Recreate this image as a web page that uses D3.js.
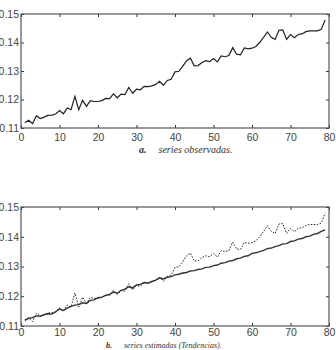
<html>
<head>
<meta charset="utf-8">
<script src="https://d3js.org/d3.v7.min.js"></script>
<style>
  body { margin: 0; background: #fff; }
  svg { display: block; }
</style>
</head>
<body>
<svg id="chart" width="336" height="350"></svg>
<script>
// x positions 1..79
var periods = d3.range(1, 80);

var observed = [
  0.1118, 0.1127, 0.1115, 0.1143, 0.1133, 0.1138, 0.1144, 0.1145, 0.1149, 0.1161,
  0.1150, 0.1170, 0.1164, 0.1211, 0.1164, 0.1197, 0.1176, 0.1196, 0.1193, 0.1193,
  0.1196, 0.1204, 0.1203, 0.1220, 0.1206, 0.1219, 0.1217, 0.1242, 0.1222, 0.1236,
  0.1234, 0.1246, 0.1245, 0.1248, 0.1253, 0.1264, 0.1250, 0.1267, 0.1271, 0.1297,
  0.1299, 0.1316, 0.1336, 0.1345, 0.1318, 0.1319, 0.1330, 0.1336, 0.1333, 0.1344,
  0.1332, 0.1353, 0.1350, 0.1354, 0.1382, 0.1359, 0.1357, 0.1381, 0.1378, 0.1380,
  0.1386, 0.1400, 0.1418, 0.1437, 0.1418, 0.1411, 0.1443, 0.1444, 0.1411, 0.1428,
  0.1417, 0.1428, 0.1430, 0.1438, 0.1441, 0.1441, 0.1441, 0.1446, 0.1479
];

// estimated trend
var trend = [
  0.1120, 0.1126, 0.1128, 0.1134, 0.1133, 0.1138, 0.1141, 0.1140, 0.1147, 0.1158,
  0.1152, 0.1160, 0.1166, 0.1170, 0.1172, 0.1178, 0.1176, 0.1186, 0.1188, 0.1195,
  0.1197, 0.1203, 0.1206, 0.1214, 0.1210, 0.1220, 0.1224, 0.1232, 0.1228, 0.1238,
  0.1240, 0.1246, 0.1244, 0.1250, 0.1254, 0.1262, 0.1258, 0.1264, 0.1266, 0.1272,
  0.1274, 0.1278, 0.1280, 0.1285, 0.1286, 0.1290, 0.1292, 0.1297, 0.1298, 0.1303,
  0.1305, 0.1311, 0.1313, 0.1318, 0.1320, 0.1326, 0.1328, 0.1334, 0.1336, 0.1344,
  0.1346, 0.1350, 0.1354, 0.1360, 0.1362, 0.1367, 0.1370, 0.1376, 0.1377, 0.1384,
  0.1386, 0.1392, 0.1394, 0.1400, 0.1402, 0.1408, 0.1411, 0.1418, 0.1423
];

var xTicks = [0, 10, 20, 30, 40, 50, 60, 70, 80];
var yTicks = [0.11, 0.12, 0.13, 0.14, 0.15];

var svg = d3.select("#chart");

// draw one framed panel, return its scales
function panel(top, bottom, caption, letter, captionY, xPad){
  var left = 21, right = 329;
  var x = d3.scaleLinear().domain([0, 80]).range([left, right]);
  var y = d3.scaleLinear().domain([0.11, 0.15]).range([bottom, top]);
  var g = svg.append("g");

  // inward ticks on all four sides
  g.append("g").attr("transform", "translate(0," + bottom + ")")
    .call(d3.axisBottom(x).tickValues(xTicks).tickSizeInner(-3).tickSizeOuter(0).tickPadding(xPad))
    .call(styleAxis);
  g.append("g").attr("transform", "translate(0," + top + ")")
    .call(d3.axisTop(x).tickValues(xTicks).tickSizeInner(-3).tickSizeOuter(0).tickFormat(""))
    .call(styleAxis);
  g.append("g").attr("transform", "translate(" + left + ",0)")
    .call(d3.axisLeft(y).tickValues(yTicks).tickSizeInner(-3).tickSizeOuter(0).tickPadding(2).tickFormat(d3.format(".2f")))
    .call(styleAxis);
  g.append("g").attr("transform", "translate(" + right + ",0)")
    .call(d3.axisRight(y).tickValues(yTicks).tickSizeInner(-3).tickSizeOuter(0).tickFormat(""))
    .call(styleAxis);

  g.append("rect")
    .attr("x", left).attr("y", top)
    .attr("width", right - left).attr("height", bottom - top)
    .attr("fill", "none")
    .style("stroke", "#555")
    .style("stroke-width", 1.2);

  var cap = g.append("text")
    .attr("x", 139).attr("y", captionY)
    .style("font-family", "'Liberation Serif', serif")
    .style("font-style", "italic")
    .style("font-size", "10px")
    .style("fill", "#333");
  cap.append("tspan").style("font-weight", "bold").text(letter);
  cap.append("tspan").attr("dx", 12).text(caption);

  return {x: x, y: y, g: g, cap: cap};
}

function styleAxis(sel){
  sel.select(".domain").remove();
  sel.selectAll("line").style("stroke", "#333");
  sel.selectAll("text")
    .style("font-family", "'Liberation Sans Narrow', 'Liberation Sans', Arial, sans-serif")
    .style("font-size", "10.5px")
    .style("fill", "#444");
}

// panel a
var pa = panel(14, 128, "series observadas.", "a.", 153, 6);
var lineA = d3.line().x(function(d, i){ return pa.x(periods[i]); }).y(function(d){ return pa.y(d); });
pa.g.append("path")
  .datum(observed)
  .attr("d", lineA)
  .attr("fill", "none")
  .style("stroke", "#222")
  .style("stroke-width", 1.2);

// panel b
var pb = panel(207, 326, "series estimadas (Tendencias).", "b.", 348, 3);
pb.cap.attr("x", 106).style("font-size", "8px");
var lineB = d3.line().x(function(d, i){ return pb.x(periods[i]); }).y(function(d){ return pb.y(d); });
pb.g.append("path")
  .datum(trend)
  .attr("d", lineB)
  .attr("fill", "none")
  .style("stroke", "#333")
  .style("stroke-width", 1.4);
pb.g.append("path")
  .datum(observed)
  .attr("d", lineB)
  .attr("fill", "none")
  .style("stroke", "#222")
  .style("stroke-width", 1)
  .style("stroke-dasharray", "1.5,1.5");
</script>
</body>
</html>
